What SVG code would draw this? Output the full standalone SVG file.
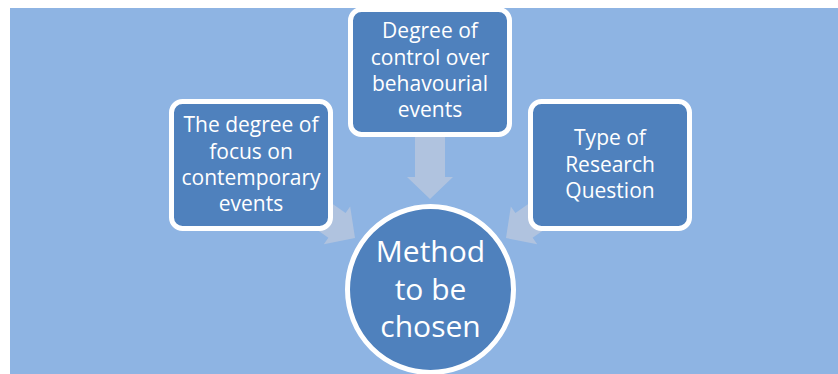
<svg xmlns="http://www.w3.org/2000/svg" width="838" height="374" viewBox="0 0 838 374">
<style>
.bg{fill:#8EB4E3}
.box{fill:#4F81BD;stroke:#FFFFFF;stroke-width:5}
.arrow{fill:#B0C3DF}
.t{font-family:"Open Sans","Liberation Sans",sans-serif;font-size:21px;fill:#FFFFFF;text-anchor:middle}
.big{font-size:30px}
</style>
<defs>
<polygon id="arr" points="-70,-15 -22,-15 -22,-23 0,0 -22,23 -22,15 -70,15"/>
</defs>
<rect class="bg" x="10" y="8" width="828" height="366"/>
<g id="connectors" class="arrow">
<polygon points="415,130 445,130 445,177 453,177 430,199 407,177 415,177"/>
<use href="#arr" transform="translate(355,238) rotate(35)"/>
<use href="#arr" transform="translate(506,238) rotate(145)"/>
</g>
<g id="node-focus">
<rect class="box" x="171.5" y="101.5" width="159" height="127" rx="11"/>
<text class="t" x="251" y="132">The degree of</text>
<text class="t" x="251" y="158.5">focus on</text>
<text class="t" x="251" y="184.5">contemporary</text>
<text class="t" x="251" y="211">events</text>
</g>
<g id="node-control">
<rect class="box" x="350.5" y="9.5" width="159" height="125" rx="11"/>
<text class="t" x="430" y="38">Degree of</text>
<text class="t" x="430" y="64.5">control over</text>
<text class="t" x="430" y="91">behavourial</text>
<text class="t" x="430" y="117">events</text>
</g>
<g id="node-question">
<rect class="box" x="530.5" y="101.5" width="159" height="127" rx="11"/>
<text class="t" x="610" y="145">Type of</text>
<text class="t" x="610" y="171.5">Research</text>
<text class="t" x="610" y="198">Question</text>
</g>
<g id="node-method">
<circle class="box" cx="430.5" cy="289.5" r="83"/>
<text class="t big" x="430.5" y="262">Method</text>
<text class="t big" x="430.5" y="299.5">to be</text>
<text class="t big" x="430.5" y="337">chosen</text>
</g>
</svg>
